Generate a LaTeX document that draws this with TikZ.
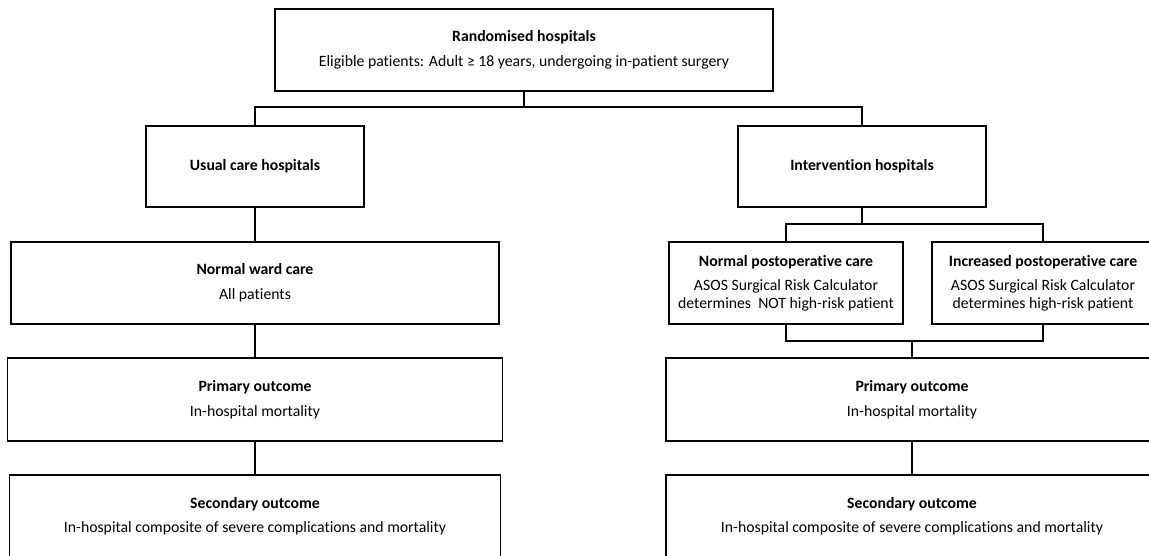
\documentclass[tikz,border=0pt]{standalone}
\usepackage{fontspec}
\setmainfont{Carlito}[RawFeature=-liga]
\usepackage{tikz}

\begin{document}
\begin{tikzpicture}[flowbox/.style={draw, line width=1.4pt, fill=white, rectangle, align=center, inner sep=0pt, font=\fontsize{11.2pt}{12.45pt}\selectfont}, flowline/.style={line width=1.4pt}]%
\clip (0, 0) rectangle (28.725, -13.875);%
\node[flowbox, minimum width=12.45cm, minimum height=2.05cm] (rand) at (13.1, -1.25) {\textbf{Randomised hospitals}\\[5pt]Eligible patients: Adult ≥ 18 years, undergoing in-patient surgery};%
\node[flowbox, minimum width=5.45cm, minimum height=2.025cm] (usual) at (6.375, -4.1625) {\textbf{Usual care hospitals}};%
\node[flowbox, minimum width=6.2cm, minimum height=2.025cm] (interv) at (21.55, -4.1625) {\textbf{Intervention hospitals}};%
\node[flowbox, minimum width=12.2cm, minimum height=2.05cm] (ward) at (6.375, -7.075) {\textbf{Normal ward care}\\[5pt]All patients};%
\node[flowbox, minimum width=5.85cm, minimum height=2.05cm] (normpost) at (19.65, -7.075) {\textbf{Normal postoperative care}\\[5pt]ASOS Surgical Risk Calculator\\determines~ NOT high-risk patient};%
\node[flowbox, minimum width=5.55cm, minimum height=2.05cm] (incpost) at (26.075, -7.075) {\textbf{Increased postoperative care}\\[5pt]ASOS Surgical Risk Calculator\\determines high-risk patient};%
\node[flowbox, minimum width=12.375cm, minimum height=2.075cm] (prim1) at (6.375, -9.9875) {\textbf{Primary outcome}\\[5pt]In-hospital mortality};%
\node[flowbox, minimum width=12.3cm, minimum height=2.075cm] (prim2) at (22.8, -9.9875) {\textbf{Primary outcome}\\[5pt]In-hospital mortality};%
\node[flowbox, minimum width=12.275cm, minimum height=2.05cm] (sec1) at (6.375, -12.9) {\textbf{Secondary outcome}\\[5pt]In-hospital composite of severe complications and mortality};%
\node[flowbox, minimum width=12.3cm, minimum height=2.05cm] (sec2) at (22.8, -12.9) {\textbf{Secondary outcome}\\[5pt]In-hospital composite of severe complications and mortality};%
\coordinate (split) at (13.1, -2.675);%
\coordinate (isplit) at (21.55, -5.6);%
\coordinate (ijoin) at (22.8, -8.525);%
\draw[flowline] (rand.south) -- (split);%
\draw[flowline] (usual.north) |- (split);%
\draw[flowline] (interv.north) |- (split);%
\draw[flowline] (usual.south) -- (ward.north);%
\draw[flowline] (ward.south) -- (prim1.north);%
\draw[flowline] (prim1.south) -- (sec1.north);%
\draw[flowline] (interv.south) -- (isplit);%
\draw[flowline] (normpost.north) |- (isplit);%
\draw[flowline] (incpost.north) |- (isplit);%
\draw[flowline] (normpost.south) |- (ijoin);%
\draw[flowline] (incpost.south) |- (ijoin);%
\draw[flowline] (ijoin) -- (prim2.north);%
\draw[flowline] (prim2.south) -- (sec2.north);%
\end{tikzpicture}
\end{document}
